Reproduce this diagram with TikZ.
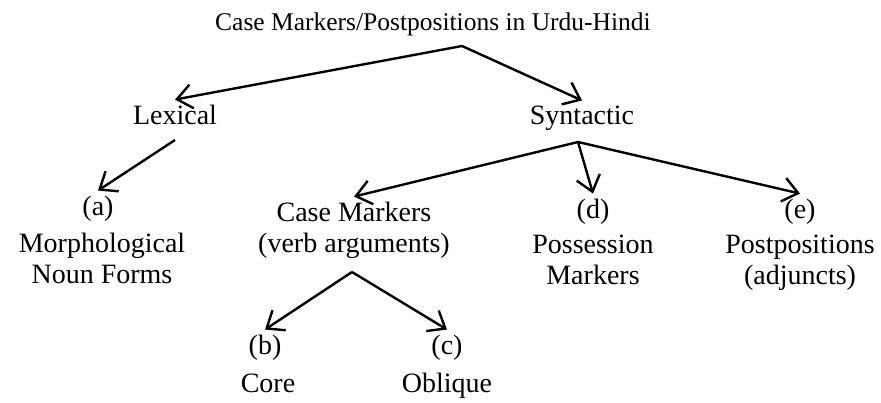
\documentclass[tikz,border=0pt]{standalone}
\usepackage{fontspec}
\setmainfont{Liberation Serif}
\usetikzlibrary{arrows.meta}

\tikzset{
  lbl/.style={inner sep=0pt, outer sep=6pt, anchor=base, align=center,
    font=\fontsize{28}{31}\selectfont},
  arr/.style={-{Straight Barb[length=15pt,width=24pt]}, line width=2.4pt},
}

\begin{document}
\begin{tikzpicture}[x=1pt,y=-1pt]
\useasboundingbox (0,0) rectangle (881,403);
% top levels
\node[lbl, font=\fontsize{25.5}{31}\selectfont] (title) at (433,31) {Case Markers/Postpositions in Urdu-Hindi};
\node[lbl] (lex) at (175,125) {Lexical};
\node[lbl] (syn) at (582,125) {Syntactic};
% leaves (two-line nodes sit on their last line)
\node[lbl] (a) at (98,216) {(a)};
\node[lbl] (morph) at (102,284) {Morphological\\Noun Forms};
\node[lbl] (cm) at (354,253) {Case Markers\\(verb arguments)};
\node[lbl] (d) at (593,219) {(d)};
\node[lbl] (poss) at (593,285) {Possession\\Markers};
\node[lbl] (e) at (800,219) {(e)};
\node[lbl] (post) at (800,285) {Postpositions\\(adjuncts)};
\node[lbl] (b) at (265,355) {(b)};
\node[lbl] (core) at (268,392) {Core};
\node[lbl] (c) at (447,355) {(c)};
\node[lbl] (obl) at (447,392) {Oblique};
% fork points
\coordinate (tfork) at (462,46);
\coordinate (lfork) at (175,140);
\coordinate (sfork) at (578,142);
\coordinate (cfork) at (352,272);
\draw[arr] (tfork) -- (lex.north);
\draw[arr] (tfork) -- (syn.north);
\draw[arr] (lfork) -- (a.north);
\draw[arr] (sfork) -- (cm.north);
\draw[arr] (sfork) -- (d.north);
\draw[arr] (sfork) -- (e.north);
\draw[arr] (cfork) -- (b.north);
\draw[arr] (cfork) -- (c.north);
\end{tikzpicture}
\end{document}
